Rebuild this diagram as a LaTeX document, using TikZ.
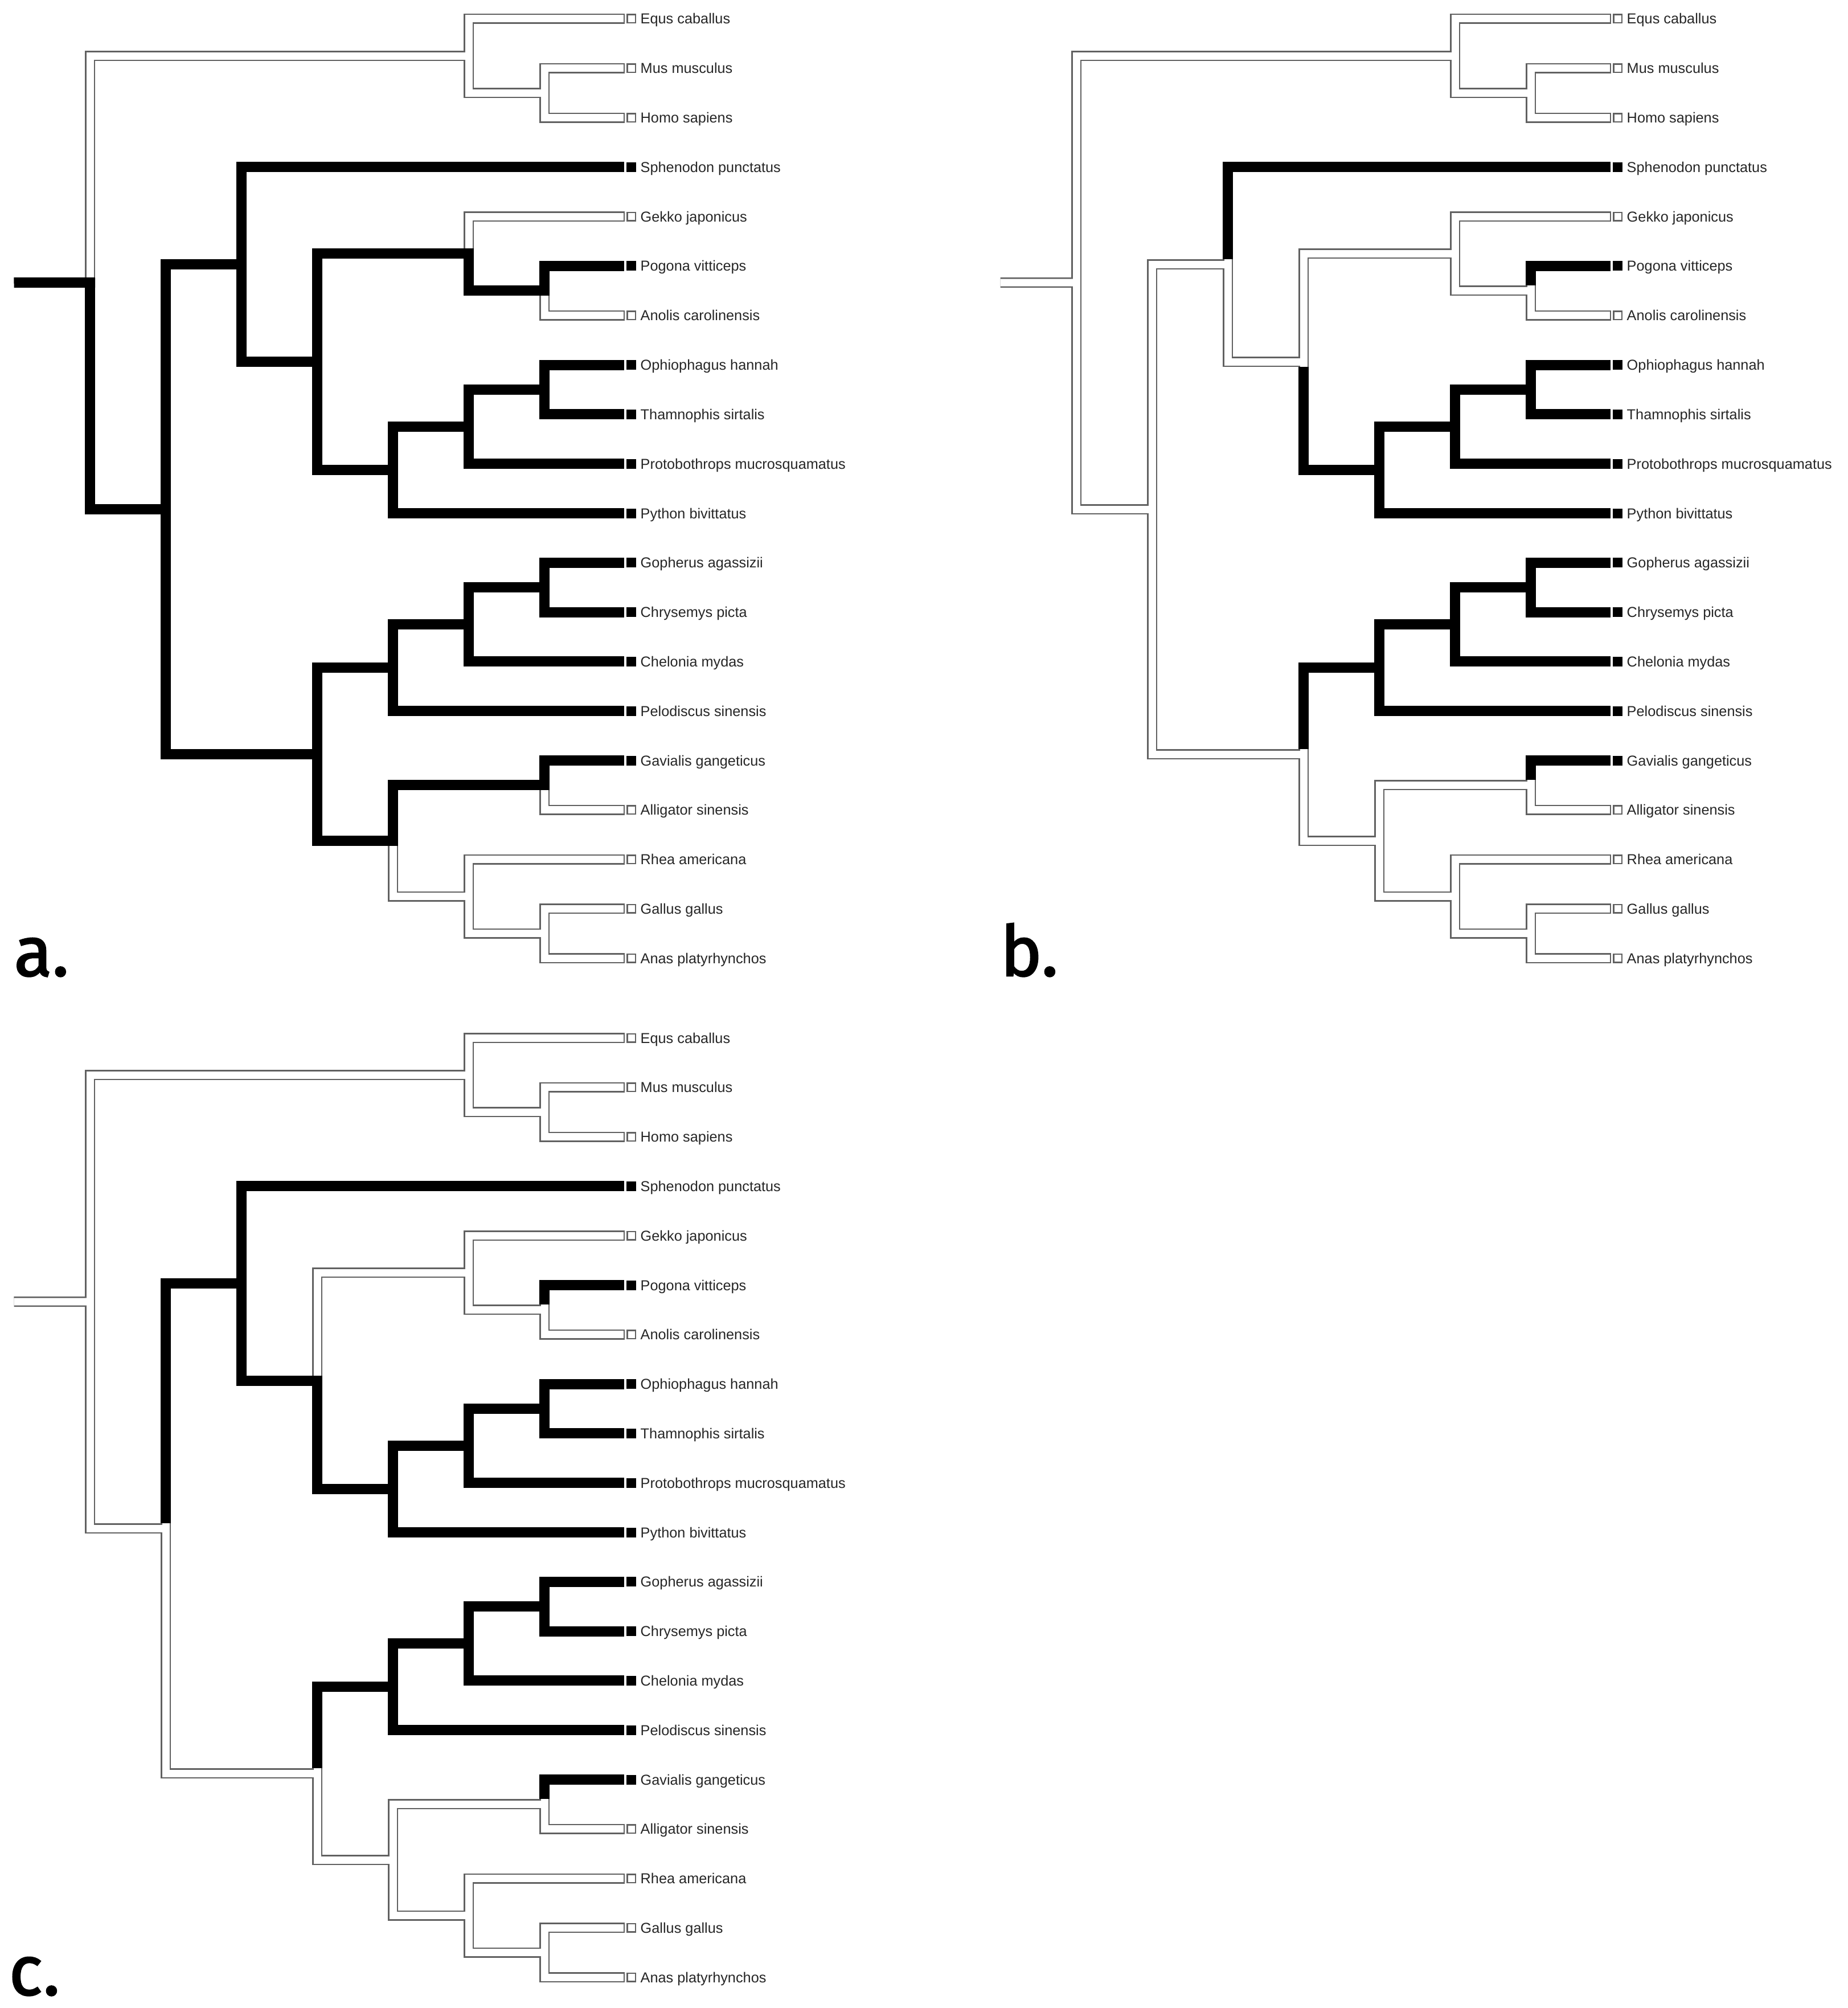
\documentclass[tikz,border=0pt]{standalone}
\usepackage{fontspec}
\setmainfont{Liberation Sans}
\newfontfamily\tagfont[FakeBold=2]{Fira Sans}

\tikzset{
  hollowout/.style={draw=black!62, line width=0.18cm, line cap=butt, line join=miter, shorten <=-0.09cm},
  hollowin/.style={draw=white, line width=0.13cm, line cap=butt, line join=miter, shorten <=-0.09cm, shorten >=0.025cm},
  fullbranch/.style={draw=black, line width=0.18cm, line cap=butt, line join=miter, shorten <=0.09cm, shorten >=-0.09cm},
  openleaf/.style={draw=black!62, fill=white, line width=0.025cm, inner sep=0pt, minimum size=0.145cm},
  fullleaf/.style={draw=white, fill=black, line width=0.04cm, inner sep=0pt, minimum size=0.21cm},
  taxon/.style={anchor=base west, inner sep=0pt, text=black!85, font=\fontsize{7.2}{8.6}\selectfont},
  paneltag/.style={anchor=base west, inner sep=0pt, text depth=0pt, font=\tagfont\fontsize{35}{42}\selectfont}
}

% leaf number / name / box / species
\newcommand{\leaflist}{0/equ/openleaf/Equs caballus, 1/mus/openleaf/Mus musculus,
  2/hom/openleaf/Homo sapiens, 3/sph/fullleaf/Sphenodon punctatus,
  4/gek/openleaf/Gekko japonicus, 5/pog/fullleaf/Pogona vitticeps,
  6/ano/openleaf/Anolis carolinensis, 7/oph/fullleaf/Ophiophagus hannah,
  8/tha/fullleaf/Thamnophis sirtalis, 9/pro/fullleaf/Protobothrops mucrosquamatus,
  10/pyt/fullleaf/Python bivittatus, 11/gop/fullleaf/Gopherus agassizii,
  12/chr/fullleaf/Chrysemys picta, 13/che/fullleaf/Chelonia mydas,
  14/pel/fullleaf/Pelodiscus sinensis, 15/gav/fullleaf/Gavialis gangeticus,
  16/all/openleaf/Alligator sinensis, 17/rhe/openleaf/Rhea americana,
  18/gal/openleaf/Gallus gallus, 19/ana/openleaf/Anas platyrhynchos}

% inner node / level / position (in leaf steps)
\newcommand{\nodelist}{root/0/5.336, mam/5/0.75, mh/6/1.5, rep/1/9.922, lep/2/4.969,
  sqm/3/6.938, gpa/5/4.75, pa/6/5.5, snk/4/9.125, otp/5/8.25, ot/6/7.5,
  arl/3/14.875, tur/4/13.125, gcc/5/12.25, gc/6/11.5, arc/4/16.625,
  cro/6/15.5, brd/5/17.75, ga/6/18.5}

% branches of each panel
\newcommand{\hollowA}{root/mam, mam/equ, mam/mh, mh/mus, mh/hom, gpa/gek, pa/ano,
  cro/all, arc/brd, brd/rhe, brd/ga, ga/gal, ga/ana}
\newcommand{\solidA}{root/rep, rep/lep, rep/arl, lep/sph, lep/sqm, sqm/gpa, sqm/snk,
  gpa/pa, pa/pog, snk/otp, snk/pyt, otp/ot, otp/pro, ot/oph, ot/tha, arl/tur,
  arl/arc, tur/gcc, tur/pel, gcc/gc, gcc/che, gc/gop, gc/chr, arc/cro, cro/gav}
\newcommand{\hollowB}{root/mam, mam/equ, mam/mh, mh/mus, mh/hom, root/rep, rep/lep,
  rep/arl, lep/sqm, sqm/gpa, gpa/gek, gpa/pa, pa/ano, arl/arc, arc/cro, cro/all,
  arc/brd, brd/rhe, brd/ga, ga/gal, ga/ana}
\newcommand{\solidB}{lep/sph, sqm/snk, pa/pog, snk/otp, snk/pyt, otp/ot, otp/pro,
  ot/oph, ot/tha, arl/tur, tur/gcc, tur/pel, gcc/gc, gcc/che, gc/gop, gc/chr, cro/gav}
\newcommand{\hollowC}{root/mam, mam/equ, mam/mh, mh/mus, mh/hom, root/rep, rep/arl,
  sqm/gpa, gpa/gek, gpa/pa, pa/ano, arl/arc, arc/cro, cro/all, arc/brd, brd/rhe,
  brd/ga, ga/gal, ga/ana}
\newcommand{\solidC}{rep/lep, lep/sph, lep/sqm, sqm/snk, pa/pog, snk/otp, snk/pyt,
  otp/ot, otp/pro, ot/oph, ot/tha, arl/tur, tur/gcc, tur/pel, gcc/gc, gcc/che,
  gc/gop, gc/chr, cro/gav}

\newcommand{\treecoords}[1]{%
  \foreach \nd/\lv/\ps in \nodelist
    \coordinate (#1-\nd) at ({1.58+1.33*\lv},{-0.33-0.868*\ps});
  \foreach \i/\nm/\bx/\txt in \leaflist
    \coordinate (#1-\nm) at (10.97,{-0.33-0.868*\i});
}

\newcommand{\branches}[3]{%
  \foreach \pa/\ch in #2 \draw[hollowout] (#1-\pa) |- (#1-\ch);
  \foreach \pa/\ch in #2 \draw[hollowin] (#1-\pa) |- (#1-\ch);
  \foreach \pa/\ch in #3 \draw[fullbranch] (#1-\pa) |- (#1-\ch);
}

\newcommand{\taxa}[1]{%
  \foreach \i/\nm/\bx/\txt in \leaflist {
    \node[\bx] (#1-\nm-box) at (11.085,{-0.33-0.868*\i}) {};
    \node[taxon] (#1-\nm-lab) at (11.24,{-0.42-0.868*\i}) {\txt};
  }
}

\begin{document}
\begin{tikzpicture}
  \useasboundingbox (0,0) rectangle (32.45,-35.25);
  % a.
  \treecoords{a}
  \coordinate (a-stem) at (0.155,-4.962);
  \branches{a}{\hollowA}{\solidA}
  \draw[fullbranch] (a-stem) -- (a-root);
  \taxa{a}
  \node[paneltag] (a-tag) at (0.24,-17.13) {a.};
  % b.
  \begin{scope}[xshift=17.32cm]
    \treecoords{b}
    \coordinate (b-stem) at (0.335,-4.962);
    \branches{b}{\hollowB}{\solidB}
    \draw[hollowout, shorten >=0.09cm] (b-stem) -- (b-root);
    \draw[hollowin, shorten >=0.06cm] (b-stem) -- (b-root);
    \taxa{b}
    \node[paneltag] (b-tag) at (0.24,-17.13) {b.};
  \end{scope}
  % c.
  \begin{scope}[yshift=-17.89cm]
    \treecoords{c}
    \coordinate (c-stem) at (0.335,-4.962);
    \branches{c}{\hollowC}{\solidC}
    \draw[hollowout, shorten >=0.09cm] (c-stem) -- (c-root);
    \draw[hollowin, shorten >=0.06cm] (c-stem) -- (c-root);
    \taxa{c}
    \node[paneltag] (c-tag) at (0.15,-17.13) {c.};
  \end{scope}
\end{tikzpicture}
\end{document}
